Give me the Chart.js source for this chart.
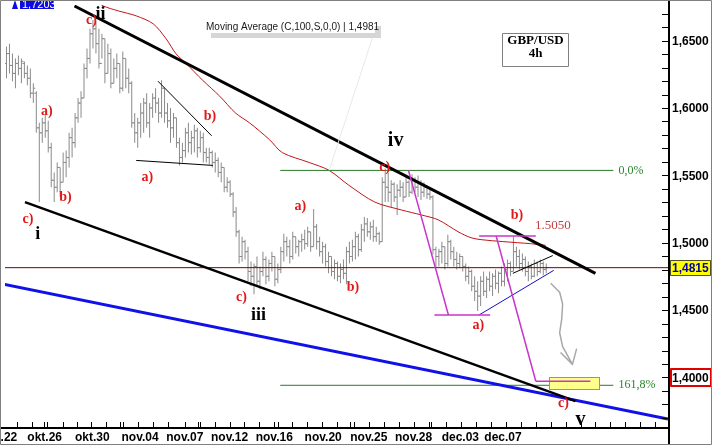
<!DOCTYPE html>
<html lang="hu">
<head>
  <meta charset="UTF-8" />
  <title>GBP/USD 4h</title>
  <script src="https://cdn.jsdelivr.net/npm/chart.js@4.4.1/dist/chart.umd.min.js"></script>
  <style>
    html, body { margin: 0; padding: 0; background: #ffffff; }
    #wrap { width: 712px; height: 445px; }
  </style>
</head>
<body>
  <div id="wrap"><canvas id="chart" width="712" height="445"></canvas></div>

  <script>
    // 4h bars, index 0 = first visible bar
    const opens = [
      1.6331, 1.6404, 1.6316, 1.6257, 1.6331, 1.6294, 1.6331, 1.6257, 1.6221, 1.6110,
      1.6110, 1.5853, 1.5816, 1.5890, 1.5831, 1.5706, 1.5464, 1.5412, 1.5559, 1.5449,
      1.5596, 1.5633, 1.5780, 1.5743, 1.5927, 1.6037, 1.6074, 1.6294, 1.6368, 1.6551,
      1.6588, 1.6478, 1.6331, 1.6515, 1.6257, 1.6404, 1.6184, 1.6294, 1.6331, 1.6147,
      1.6368, 1.6221, 1.6184, 1.5890, 1.5816, 1.5890, 1.5963, 1.6037, 1.5890, 1.6000,
      1.6074, 1.6037, 1.5963, 1.6147, 1.5963, 1.5905, 1.5853, 1.5927, 1.5743, 1.5633,
      1.5684, 1.5816, 1.5743, 1.5780, 1.5831, 1.5706, 1.5780, 1.5669, 1.5633, 1.5669,
      1.5596, 1.5611, 1.5522, 1.5559, 1.5412, 1.5449, 1.5361, 1.5228, 1.5081, 1.4898,
      1.5008, 1.4934, 1.4787, 1.4751, 1.4824, 1.4714, 1.4787, 1.4876, 1.4751, 1.4846,
      1.4898, 1.4729, 1.4802, 1.4934, 1.5008, 1.4971, 1.4898, 1.5045, 1.4971, 1.5008,
      1.5023, 1.4993, 1.5081, 1.4971, 1.5118, 1.5008, 1.4934, 1.4971, 1.4861, 1.4898,
      1.4787, 1.4846, 1.4751, 1.4802, 1.4773, 1.4934, 1.4898, 1.4971, 1.5045, 1.4949,
      1.5096, 1.5140, 1.5081, 1.5118, 1.5045, 1.5067, 1.5008, 1.5449, 1.5412, 1.5375,
      1.5434, 1.5339, 1.5390, 1.5412, 1.5339, 1.5449, 1.5375, 1.5464, 1.5412, 1.5449,
      1.5375, 1.5412, 1.5361, 1.5339, 1.4949, 1.4898, 1.4934, 1.4971, 1.4846, 1.5008,
      1.4934, 1.4876, 1.4846, 1.4898, 1.4824, 1.4751, 1.4787, 1.4677, 1.4640, 1.4604,
      1.4714, 1.4640, 1.4729, 1.4677, 1.4751, 1.4699, 1.4773, 1.4714, 1.4802, 1.4846,
      1.4787, 1.4934, 1.4898, 1.4846, 1.4876, 1.4787, 1.4824, 1.4751, 1.4846, 1.4787,
      1.4846, 1.4802
    ];
    const highs = [
      1.6456, 1.6478, 1.6404, 1.6368, 1.6390, 1.6368, 1.6346, 1.6316, 1.6294, 1.6184,
      1.6125, 1.5890, 1.5927, 1.5949, 1.5905, 1.5743, 1.5522, 1.5596, 1.5559, 1.5669,
      1.5684, 1.5816, 1.5853, 1.5963, 1.6074, 1.6125, 1.6331, 1.6441, 1.6588, 1.6654,
      1.6640, 1.6588, 1.6551, 1.6515, 1.6478, 1.6441, 1.6368, 1.6404, 1.6331, 1.6419,
      1.6368, 1.6294, 1.6199, 1.5963, 1.5927, 1.6037, 1.6074, 1.6110, 1.6037, 1.6110,
      1.6147, 1.6074, 1.6206, 1.6147, 1.6037, 1.6000, 1.5963, 1.5927, 1.5780, 1.5743,
      1.5853, 1.5890, 1.5831, 1.5875, 1.5853, 1.5831, 1.5816, 1.5706, 1.5706, 1.5684,
      1.5669, 1.5633, 1.5596, 1.5559, 1.5486, 1.5464, 1.5375, 1.5265, 1.5096, 1.5045,
      1.5023, 1.4971, 1.4861, 1.4846, 1.4898, 1.4824, 1.4934, 1.4898, 1.4876, 1.4934,
      1.4898, 1.4846, 1.4971, 1.5067, 1.5045, 1.5023, 1.5081, 1.5045, 1.5023, 1.5067,
      1.5096, 1.5118, 1.5081, 1.5251, 1.5140, 1.5045, 1.5008, 1.4993, 1.4934, 1.4898,
      1.4876, 1.4861, 1.4846, 1.4876, 1.4971, 1.5008, 1.5023, 1.5081, 1.5067, 1.5140,
      1.5192, 1.5184, 1.5155, 1.5170, 1.5118, 1.5081, 1.5486, 1.5552, 1.5522, 1.5464,
      1.5449, 1.5434, 1.5464, 1.5449, 1.5486, 1.5464, 1.5508, 1.5486, 1.5500, 1.5464,
      1.5449, 1.5427, 1.5412, 1.5353, 1.4971, 1.4956, 1.5008, 1.4971, 1.5059, 1.5023,
      1.4971, 1.4934, 1.4920, 1.4898, 1.4846, 1.4824, 1.4802, 1.4751, 1.4714, 1.4751,
      1.4787, 1.4751, 1.4787, 1.4773, 1.4802, 1.4787, 1.4824, 1.4846, 1.4876, 1.4861,
      1.5045, 1.4971, 1.4949, 1.4920, 1.4898, 1.4861, 1.4846, 1.4876, 1.4861, 1.4876,
      1.4861, 1.4846
    ];
    const lows = [
      1.6221, 1.6257, 1.6199, 1.6147, 1.6243, 1.6184, 1.6221, 1.6169, 1.6074, 1.6037,
      1.5816, 1.5302, 1.5743, 1.5780, 1.5669, 1.5412, 1.5302, 1.5375, 1.5339, 1.5449,
      1.5486, 1.5559, 1.5633, 1.5706, 1.5890, 1.5927, 1.6074, 1.6221, 1.6331, 1.6441,
      1.6404, 1.6294, 1.6368, 1.6184, 1.6257, 1.6147, 1.6184, 1.6221, 1.6110, 1.6125,
      1.6147, 1.6110, 1.5853, 1.5743, 1.5706, 1.5780, 1.5816, 1.5853, 1.5780, 1.5927,
      1.5963, 1.5890, 1.5927, 1.5890, 1.5853, 1.5743, 1.5780, 1.5706, 1.5574, 1.5596,
      1.5633, 1.5669, 1.5655, 1.5669, 1.5633, 1.5669, 1.5596, 1.5596, 1.5581, 1.5559,
      1.5522, 1.5486, 1.5449, 1.5375, 1.5375, 1.5339, 1.5192, 1.5045, 1.4846, 1.4861,
      1.4876, 1.4714, 1.4677, 1.4618, 1.4677, 1.4655, 1.4751, 1.4692, 1.4714, 1.4787,
      1.4677, 1.4699, 1.4773, 1.4861, 1.4898, 1.4846, 1.4876, 1.4920, 1.4898, 1.4934,
      1.4949, 1.4971, 1.4934, 1.4971, 1.4949, 1.4898, 1.4846, 1.4824, 1.4773, 1.4751,
      1.4729, 1.4714, 1.4699, 1.4729, 1.4692, 1.4846, 1.4861, 1.4876, 1.4898, 1.4934,
      1.5008, 1.5045, 1.5023, 1.5008, 1.5008, 1.4986, 1.5008, 1.5302, 1.5302, 1.5265,
      1.5302, 1.5206, 1.5339, 1.5302, 1.5339, 1.5339, 1.5361, 1.5375, 1.5339, 1.5317,
      1.5339, 1.5324, 1.5317, 1.4912, 1.4810, 1.4824, 1.4846, 1.4802, 1.4824, 1.4876,
      1.4824, 1.4802, 1.4810, 1.4787, 1.4714, 1.4692, 1.4640, 1.4567, 1.4493, 1.4530,
      1.4604, 1.4589, 1.4640, 1.4604, 1.4655, 1.4626, 1.4677, 1.4677, 1.4714, 1.4751,
      1.4787, 1.4824, 1.4802, 1.4787, 1.4751, 1.4714, 1.4729, 1.4743, 1.4751, 1.4773,
      1.4758, 1.4773
    ];
    const closes = [
      1.6404, 1.6316, 1.6257, 1.6331, 1.6294, 1.6346, 1.6257, 1.6221, 1.6110, 1.6147,
      1.5853, 1.5816, 1.5890, 1.5831, 1.5706, 1.5464, 1.5412, 1.5559, 1.5449, 1.5596,
      1.5633, 1.5780, 1.5743, 1.5927, 1.6037, 1.6074, 1.6294, 1.6368, 1.6551, 1.6588,
      1.6478, 1.6331, 1.6515, 1.6257, 1.6404, 1.6184, 1.6294, 1.6331, 1.6147, 1.6368,
      1.6221, 1.6184, 1.5890, 1.5816, 1.5890, 1.5963, 1.6037, 1.5890, 1.6000, 1.6074,
      1.6037, 1.5963, 1.6147, 1.5963, 1.5905, 1.5853, 1.5927, 1.5743, 1.5633, 1.5684,
      1.5816, 1.5743, 1.5780, 1.5831, 1.5706, 1.5780, 1.5669, 1.5633, 1.5669, 1.5596,
      1.5611, 1.5522, 1.5559, 1.5412, 1.5449, 1.5361, 1.5228, 1.5081, 1.4898, 1.5008,
      1.4934, 1.4787, 1.4751, 1.4824, 1.4714, 1.4787, 1.4876, 1.4751, 1.4846, 1.4898,
      1.4729, 1.4802, 1.4934, 1.5008, 1.4971, 1.4898, 1.5045, 1.4971, 1.5008, 1.5023,
      1.4993, 1.5081, 1.4971, 1.5118, 1.5008, 1.4934, 1.4971, 1.4861, 1.4898, 1.4787,
      1.4846, 1.4751, 1.4802, 1.4773, 1.4934, 1.4898, 1.4971, 1.5045, 1.4949, 1.5096,
      1.5140, 1.5081, 1.5118, 1.5045, 1.5067, 1.5008, 1.5449, 1.5412, 1.5375, 1.5434,
      1.5339, 1.5390, 1.5412, 1.5339, 1.5449, 1.5375, 1.5464, 1.5412, 1.5449, 1.5375,
      1.5412, 1.5361, 1.5339, 1.4949, 1.4898, 1.4934, 1.4971, 1.4846, 1.5008, 1.4934,
      1.4876, 1.4846, 1.4898, 1.4824, 1.4751, 1.4787, 1.4677, 1.4640, 1.4604, 1.4714,
      1.4640, 1.4729, 1.4677, 1.4751, 1.4699, 1.4773, 1.4714, 1.4802, 1.4846, 1.4787,
      1.4934, 1.4898, 1.4846, 1.4876, 1.4787, 1.4824, 1.4751, 1.4846, 1.4787, 1.4846,
      1.4802, 1.4815
    ];

    // Moving Average (C,100,S,0,0)
    const maX = [30.8, 32.5, 37.5, 43.5, 49.2, 53.5, 56.8, 60.2, 65.8, 71.5, 76.8, 81.5, 88.2, 92.5,
                 101.5, 108.2, 114.8, 123.5, 132.5, 139.2, 144.8, 151.5, 155.8, 159.2, 166.8, 175.8, 180.8];
    const maY = [1.6787, 1.6757, 1.6721, 1.6684, 1.6625, 1.6515, 1.6404, 1.6331, 1.6206, 1.6088, 1.5963, 1.5890, 1.5765, 1.5669,
                 1.5596, 1.5537, 1.5427, 1.5302, 1.5243, 1.5206, 1.5170, 1.5081, 1.5037, 1.5023, 1.5008, 1.4993, 1.4981];

    // axes
    const xMin = -0.5, xMax = 221.8333;
    const yMin = 1.36324, yMax = 1.67647;
    const dateLabels = ['okt.22', 'okt.26', 'okt.30', 'nov.04', 'nov.07', 'nov.12', 'nov.16', 'nov.20', 'nov.25', 'nov.28', 'dec.03', 'dec.07'];
    const dateLabelPos = [-2.2, 12.8, 28.8, 44.8, 59.8, 74.8, 89.8, 106.2, 121.5, 136.5, 152.2, 166.5];
    const dayTicks = [3.5, 8.5, 12.5, 13.5, 18.8, 23.8, 28.5, 33.5, 38.2, 39.2, 44.2, 49.2, 54.2, 59.8, 64.2, 64.8,
                      69.8, 74.8, 79.8, 84.8, 89.8, 91.2, 95.8, 100.8, 105.8, 110.8, 115.2, 116.5, 121.5, 126.5,
                      131.5, 136.8, 141.8, 142.5, 147.5, 152.5, 157.5, 162.5, 167.5, 172.5, 177.5, 182.5, 187.5,
                      192.5, 197.5, 202.5, 207.5, 212.5, 217.5];
    const priceLabels = [1.40, 1.45, 1.50, 1.55, 1.60, 1.65];
    const lastPrice = 1.4815;
    const targetPrice = 1.40;
    const maValue = '1,4981';
    const topValue = '1,7203';

    // drawn lines: [bar index, price] end points
    const upperChannel = [[22.8, 1.6757], [197.5, 1.4773]];
    const lowerChannel = [[6.2, 1.5302], [190.8, 1.3825]];
    const blueBase = [[-0.83, 1.4692], [221.83, 1.3692]];
    const triTop = [[50.8, 1.6199], [68.8, 1.5794]];
    const triBase = [[43.5, 1.5611], [69.2, 1.5574]];
    const wedgeTop = [[169.8, 1.4773], [183.2, 1.4905]];
    const wedgeBase = [[158.5, 1.4464], [183.5, 1.4795]];
    const fibZero = [[91.8, 1.5537], [203.5, 1.5537]];
    const fibExt = [[91.8, 1.3942], [203.5, 1.3942]];
    const abcDown1 = [[134.8, 1.5537], [148.2, 1.4464]];
    const abcLow1 = [[143.5, 1.4464], [162.2, 1.4464]];
    const abcTop2 = [[158.5, 1.5050], [177.5, 1.5050]];
    const abcDown2 = [[164.2, 1.5050], [177.5, 1.3972]];
    const abcLow2 = [[177.5, 1.3972], [195.8, 1.3972]];
    const lastLine = [[xMin, lastPrice], [xMax, lastPrice]];
    const targetZone = [181.8, 198.8, 1.4001, 1.3913];

    const arrowX = [182.5, 185.5, 186.5, 186.2, 185.5, 186.5, 189.8];
    const arrowY = [1.4699, 1.4633, 1.4545, 1.4435, 1.4332, 1.4229, 1.4097];
    const arrowWingX = [185.8, 191.2];
    const arrowWingY = [1.4185, 1.4214];

    // wave labels
    const waveText = ['i', 'ii', 'iii', 'iv', 'v'];
    const waveX = [10.5, 31.5, 84.5, 130.5, 192.5];
    const waveY = [1.5059, 1.6699, 1.4464, 1.5758, 1.3685];
    const abcText = ['c)', 'a)', 'b)', 'b)', 'c)', 'a)', 'c)', 'a)', 'b)', 'c)', 'b)', 'a)', 'c)'];
    const abcX = [28.5, 13.5, 68.2, 19.8, 7.2, 47.2, 78.8, 98.5, 116.2, 126.8, 171.2, 158.2, 186.8];
    const abcY = [1.6647, 1.5978, 1.5941, 1.5339, 1.5177, 1.5486, 1.4596, 1.5273, 1.4670, 1.5559, 1.5206, 1.4383, 1.3810];
    const levelText = ['0,0%', '161,8%', '1.5050'];
    const levelX = [205.2, 205.2, 183.2];
    const levelY = [1.5537, 1.3942, 1.5126];

    const barGrey = '#8a8a8a';

    function pts(arr) {
      return arr.map(p => ({ x: p[0], y: p[1] }));
    }
    function seg(label, arr, color, width) {
      return { type: 'line', label: label, data: pts(arr), borderColor: color, borderWidth: width,
               pointRadius: 0, fill: false, tension: 0 };
    }
    function fmt(v) {
      return v.toFixed(4).replace('.', ',');
    }

    const overlay = {
      id: 'overlay',
      afterDatasetDraw(chart, args) {
        if (chart.data.datasets[args.index].label !== 'fibExt') return;
        const xs = chart.scales.x, ys = chart.scales.y, ctx = chart.ctx;
        const x0 = Math.round(xs.getPixelForValue(targetZone[0])) + 0.5;
        const x1 = Math.round(xs.getPixelForValue(targetZone[1])) + 0.5;
        const y0 = Math.round(ys.getPixelForValue(targetZone[2])) + 0.5;
        const y1 = Math.round(ys.getPixelForValue(targetZone[3])) + 0.5;
        ctx.save();
        ctx.fillStyle = '#ffff8c';
        ctx.strokeStyle = '#9a9a5a';
        ctx.lineWidth = 1;
        ctx.fillRect(x0, y0, x1 - x0, y1 - y0);
        ctx.strokeRect(x0, y0, x1 - x0, y1 - y0);
        ctx.restore();
      },
      afterDraw(chart) {
        const ctx = chart.ctx, xs = chart.scales.x, ys = chart.scales.y, area = chart.chartArea;
        const X = v => xs.getPixelForValue(v);
        const Y = v => ys.getPixelForValue(v);
        ctx.save();

        // grey arrow
        ctx.strokeStyle = '#a8a8a8';
        ctx.lineWidth = 1.5;
        ctx.lineJoin = 'round';
        ctx.beginPath();
        arrowX.forEach((x, i) => i ? ctx.lineTo(X(x), Y(arrowY[i])) : ctx.moveTo(X(x), Y(arrowY[i])));
        ctx.stroke();
        const tipX = X(arrowX[arrowX.length - 1]), tipY = Y(arrowY[arrowY.length - 1]);
        ctx.beginPath();
        ctx.moveTo(X(arrowWingX[0]), Y(arrowWingY[0]));
        ctx.lineTo(tipX, tipY);
        ctx.lineTo(X(arrowWingX[1]), Y(arrowWingY[1]));
        ctx.stroke();

        // MA legend box + connector
        ctx.strokeStyle = '#e8e8e8';
        ctx.lineWidth = 1;
        ctx.beginPath();
        ctx.moveTo(374, 33);
        ctx.lineTo(X(maX[15]), Y(maY[15]));
        ctx.stroke();
        ctx.fillStyle = '#d6d6d6';
        ctx.fillRect(211, 26, 170, 12);
        ctx.fillStyle = '#ffffff';
        ctx.fillRect(205, 20, 170, 13);
        ctx.fillStyle = '#1a1a1a';
        ctx.font = '10px "Liberation Sans", Arial, sans-serif';
        ctx.textAlign = 'left';
        ctx.textBaseline = 'middle';
        ctx.fillText('Moving Average (C,100,S,0,0) | ' + maValue, 206, 27);

        // title box
        ctx.strokeStyle = '#808080';
        ctx.strokeRect(502.5, 33.5, 66, 33);
        ctx.fillStyle = '#000';
        ctx.font = 'bold 13px "Liberation Serif", "Times New Roman", serif';
        ctx.textAlign = 'center';
        ctx.fillText('GBP/USD', 535.5, 41);
        ctx.fillText('4h', 535.5, 54);

        // top value flag
        ctx.fillStyle = '#0c0ce0';
        ctx.fillRect(20, 0, 34, 9);
        ctx.beginPath();
        ctx.moveTo(12, 9); ctx.lineTo(15, 0); ctx.lineTo(18, 9); ctx.closePath();
        ctx.fill();
        ctx.fillStyle = '#ffffff';
        ctx.font = '11px "Liberation Sans", Arial, sans-serif';
        ctx.textAlign = 'left';
        ctx.textBaseline = 'alphabetic';
        ctx.fillText(topValue, 22, 8);

        // Elliott labels
        ctx.textAlign = 'center';
        ctx.textBaseline = 'middle';
        ctx.fillStyle = '#000';
        waveText.forEach((t, i) => {
          ctx.font = 'bold ' + (i >= 3 ? 20 : 18) + 'px "Liberation Serif", "Times New Roman", serif';
          ctx.fillText(t, X(waveX[i]), Y(waveY[i]));
        });
        ctx.fillStyle = '#e01818';
        ctx.font = 'bold 14px "Liberation Serif", "Times New Roman", serif';
        abcText.forEach((t, i) => ctx.fillText(t, X(abcX[i]), Y(abcY[i])));

        // level texts
        ctx.font = '12px "Liberation Serif", "Times New Roman", serif';
        ctx.textAlign = 'left';
        ctx.fillStyle = '#2a852a';
        ctx.fillText(levelText[0], X(levelX[0]), Y(levelY[0]));
        ctx.fillText(levelText[1], X(levelX[1]), Y(levelY[1]));
        ctx.fillStyle = '#c04040';
        ctx.font = '13px "Liberation Serif", "Times New Roman", serif';
        ctx.textAlign = 'center';
        ctx.fillText(levelText[2], X(levelX[2]), Y(levelY[2]));

        // axis lines
        ctx.strokeStyle = '#000';
        ctx.lineWidth = 2;
        ctx.beginPath();
        ctx.moveTo(area.right + 1, 0); ctx.lineTo(area.right + 1, chart.height);
        ctx.moveTo(0, area.bottom + 1); ctx.lineTo(area.right, area.bottom + 1);
        ctx.stroke();

        // price ticks (inside) and labels
        ctx.lineWidth = 1;
        ctx.beginPath();
        for (let k = 137; k <= 167; k++) {
          const y = Math.round(Y(k / 100)) + 0.5;
          ctx.moveTo(area.right - 6, y); ctx.lineTo(area.right, y);
        }
        dayTicks.forEach(t => {
          const x = Math.round(X(t)) + 0.5;
          ctx.moveTo(x, area.bottom); ctx.lineTo(x, area.bottom - 5);
        });
        ctx.stroke();

        ctx.font = 'bold 12px "Liberation Sans", Arial, sans-serif';
        ctx.textAlign = 'left';
        ctx.textBaseline = 'middle';
        ctx.fillStyle = '#000';
        priceLabels.forEach(v => ctx.fillText(fmt(v), area.right + 4, Y(v) + 1));

        // highlighted target label
        const ty = Math.round(Y(targetPrice));
        ctx.strokeStyle = '#e00000';
        ctx.lineWidth = 2;
        ctx.strokeRect(area.right + 3, ty - 8, 40, 17);

        // last price label
        const ly = Math.round(Y(lastPrice));
        ctx.fillStyle = '#ffff00';
        ctx.fillRect(area.right + 2, ly - 8, 41, 16);
        ctx.strokeStyle = '#505020';
        ctx.lineWidth = 1;
        ctx.strokeRect(area.right + 2.5, ly - 7.5, 40, 15);
        ctx.fillStyle = '#0000b0';
        ctx.fillText(fmt(lastPrice), area.right + 4, ly + 1);

        // date labels
        ctx.fillStyle = '#000';
        ctx.textAlign = 'center';
        dateLabels.forEach((t, i) => ctx.fillText(t, X(dateLabelPos[i]), 438));

        // outer frame
        ctx.strokeStyle = '#808080';
        ctx.lineWidth = 1;
        ctx.strokeRect(0.5, 0.5, chart.width - 1, chart.height - 1);
        ctx.restore();
      }
    };

    const datasets = [
      seg('abcDown1', abcDown1, '#cc33cc', 1.5),
      seg('abcLow1', abcLow1, '#cc33cc', 1.5),
      seg('abcTop2', abcTop2, '#cc33cc', 1.5),
      seg('abcDown2', abcDown2, '#cc33cc', 1.5),
      seg('abcLow2', abcLow2, '#cc33cc', 1.5),
      seg('upperChannel', upperChannel, '#000000', 3),
      seg('lowerChannel', lowerChannel, '#000000', 2.5),
      seg('blueBase', blueBase, '#1010e8', 3),
      seg('triTop', triTop, '#000000', 1),
      seg('triBase', triBase, '#000000', 1),
      seg('wedgeTop', wedgeTop, '#000000', 1),
      seg('wedgeBase', wedgeBase, '#1010c0', 1),
      seg('fibZero', fibZero, '#2a7a2a', 1),
      seg('fibExt', fibExt, '#2a7a2a', 1),
      seg('lastLine', lastLine, '#7a0000', 1),
      {
        type: 'line', label: 'ma', data: maX.map((x, i) => ({ x: x, y: maY[i] })),
        borderColor: '#c41414', borderWidth: 1, pointRadius: 0, tension: 0.3, fill: false
      },
      {
        type: 'line', label: 'open', data: opens.map((v, i) => ({ x: i, y: v })), showLine: false,
        pointStyle: 'dash', pointRotation: 180, pointRadius: 2, pointBorderWidth: 1, pointBorderColor: barGrey
      },
      {
        type: 'line', label: 'close', data: closes.map((v, i) => ({ x: i, y: v })), showLine: false,
        pointStyle: 'dash', pointRotation: 0, pointRadius: 2, pointBorderWidth: 1, pointBorderColor: barGrey
      },
      {
        type: 'bar', label: 'range', data: highs.map((h, i) => ({ x: i, y: [lows[i], h] })),
        backgroundColor: barGrey, barThickness: 1, grouped: false, inflateAmount: 0, borderWidth: 0
      }
    ];

    new Chart(document.getElementById('chart'), {
      type: 'bar',
      data: { datasets: datasets },
      options: {
        responsive: false,
        animation: false,
        events: [],
        layout: { padding: { left: 1, top: 1, right: 44, bottom: 18 } },
        plugins: { legend: { display: false }, tooltip: { enabled: false } },
        scales: {
          x: { type: 'linear', min: xMin, max: xMax, offset: false, display: false, grid: { display: false } },
          y: { type: 'linear', min: yMin, max: yMax, beginAtZero: false, display: false, grid: { display: false } }
        }
      },
      plugins: [overlay]
    });
  </script>
</body>
</html>
